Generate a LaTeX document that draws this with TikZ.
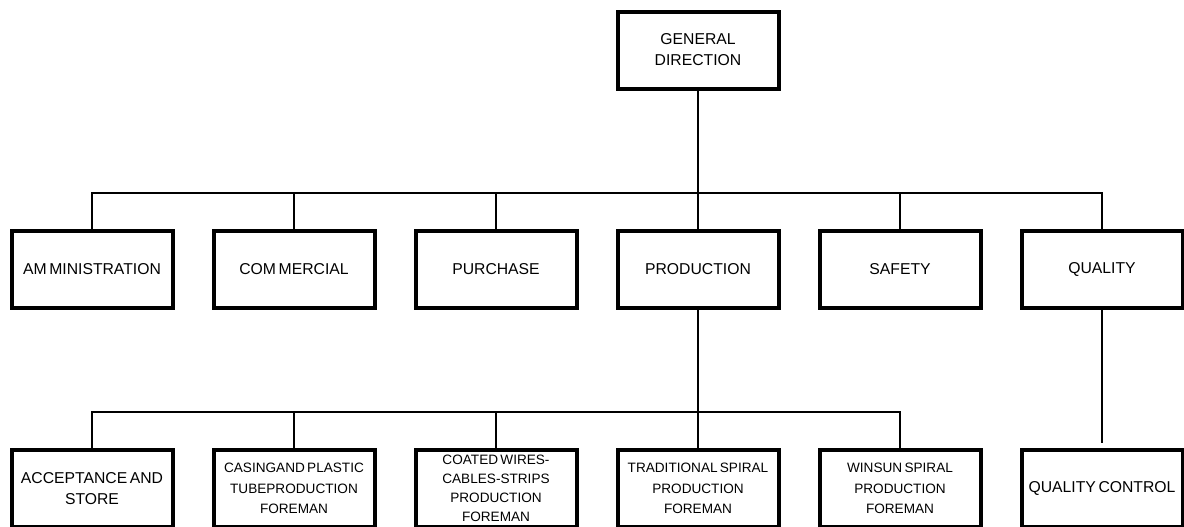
\documentclass[tikz,border=0pt]{standalone}
\usepackage{fontspec}
\setmainfont{Liberation Sans}[WordSpace=0.6]
\begin{document}
\begin{tikzpicture}[x=0.75pt,y=-0.75pt,
		box/.style={draw,line width=3pt,minimum width=120.75pt,minimum height=57.75pt,inner sep=0pt,align=center,font=\fontsize{11.8}{15.8}\selectfont},
		small/.style={font=\fontsize{10.2}{15.6}\selectfont},
		tight/.style={font=\fontsize{10.2}{14.2}\selectfont},
		link/.style={line width=1.5pt}]
		\useasboundingbox (0,0) rectangle (1184,526);
		\clip (0,0) rectangle (1184,526);
		% top
		\node[box] (gd) at (698,50) {GENERAL\\DIRECTION};
		% departments
		\node[box] (adm) at (92,269.5) {AM MINISTRATION};
		\node[box] (com) at (294,269.5) {COM MERCIAL};
		\node[box] (pur) at (496,269.5) {PURCHASE};
		\node[box] (pro) at (698,269.5) {PRODUCTION};
		\node[box] (saf) at (900,269.5) {SAFETY};
		\node[box] (qua) at (1102,269.5) {QUALITY};
		% foremen
		\node[box] (acc) at (92,488.5) {ACCEPTANCE AND\\STORE};
		\node[box,small] (cas) at (294,488.5) {CASINGAND PLASTIC\\TUBEPRODUCTION\\FOREMAN};
		\node[box,tight] (coa) at (496,488.5) {COATED WIRES-\\CABLES-STRIPS\\PRODUCTION\\FOREMAN};
		\node[box,small] (tra) at (698,488.5) {TRADITIONAL SPIRAL\\PRODUCTION\\FOREMAN};
		\node[box,small] (win) at (900,488.5) {WINSUN SPIRAL\\PRODUCTION\\FOREMAN};
		\node[box] (qc) at (1102,488.5) {QUALITY CONTROL};
		\coordinate (bus) at (698,193);
		\coordinate (busb) at (698,412);
		\foreach \n in {adm,com,pur,pro,saf,qua}{
			\draw[link] (gd.south) -- (bus) -| (\n.north);
		}
		\foreach \n in {acc,cas,coa,tra,win}{
			\draw[link] (pro.south) -- (busb) -| (\n.north);
		}
		\draw[link,shorten >=3.5pt] (qua.south) -- (qc.north);
	\end{tikzpicture}
\end{document}
